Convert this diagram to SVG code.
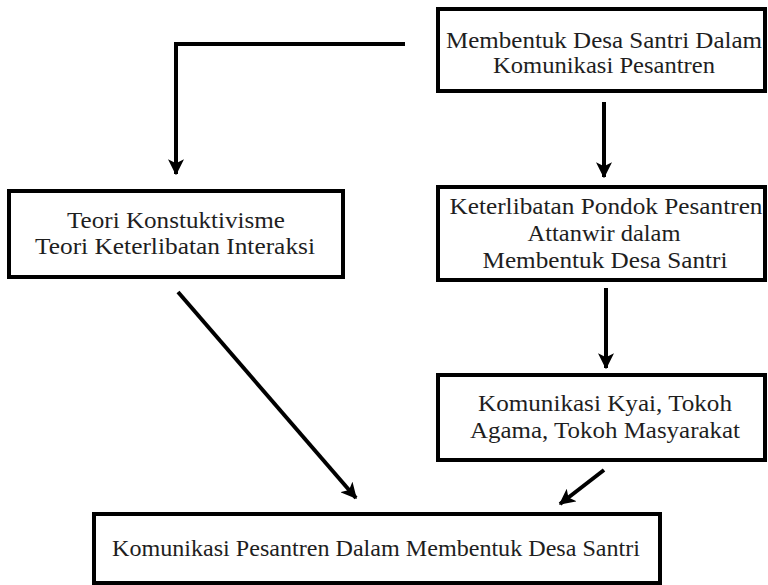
<svg xmlns="http://www.w3.org/2000/svg" width="768" height="585" viewBox="0 0 768 585">
<defs>
<style>
.box{fill:#fff;stroke:#000;stroke-width:4}
.t{font-family:'Liberation Serif','DejaVu Serif','Times New Roman',serif;font-size:22.5px;fill:#1e1e1e;text-anchor:middle}
.c{fill:none;stroke:#000;stroke-width:4}
</style>
<marker id="ah" viewBox="0 0 12 12" refX="11" refY="6" markerWidth="4" markerHeight="4" orient="auto" markerUnits="strokeWidth">
<path d="M0,0 L12,6 L0,12 L3,6 Z" fill="#000"/>
</marker>
</defs>
<rect width="768" height="585" fill="#fff"/>
<g id="n1">
<rect class="box" x="438" y="9" width="327" height="82"/>
<text class="t" x="604" y="48" textLength="316" lengthAdjust="spacingAndGlyphs">Membentuk Desa Santri Dalam</text>
<text class="t" x="604" y="73" textLength="222" lengthAdjust="spacingAndGlyphs">Komunikasi Pesantren</text>
</g>
<g id="n2">
<rect class="box" x="438" y="187" width="327" height="93"/>
<text class="t" x="606" y="214" textLength="313" lengthAdjust="spacingAndGlyphs">Keterlibatan Pondok Pesantren</text>
<text class="t" x="604" y="241" textLength="153" lengthAdjust="spacingAndGlyphs">Attanwir dalam</text>
<text class="t" x="605" y="268" textLength="245" lengthAdjust="spacingAndGlyphs">Membentuk Desa Santri</text>
</g>
<g id="n3">
<rect class="box" x="438" y="375" width="327" height="85"/>
<text class="t" x="605" y="411" textLength="254" lengthAdjust="spacingAndGlyphs">Komunikasi Kyai, Tokoh</text>
<text class="t" x="605" y="438" textLength="270" lengthAdjust="spacingAndGlyphs">Agama, Tokoh Masyarakat</text>
</g>
<g id="n4">
<rect class="box" x="9" y="191" width="334" height="86"/>
<text class="t" x="176" y="228" textLength="218" lengthAdjust="spacingAndGlyphs">Teori Konstuktivisme</text>
<text class="t" x="175" y="254" textLength="280" lengthAdjust="spacingAndGlyphs">Teori Keterlibatan Interaksi</text>
</g>
<g id="n5">
<rect class="box" x="94" y="514" width="566" height="69"/>
<text class="t" x="376" y="556" textLength="528" lengthAdjust="spacingAndGlyphs">Komunikasi Pesantren Dalam Membentuk Desa Santri</text>
</g>
<g id="connectors">
<path class="c" d="M405,44 H176 V174" marker-end="url(#ah)"/>
<path class="c" d="M604,102 V177" marker-end="url(#ah)"/>
<path class="c" d="M606,288 V368" marker-end="url(#ah)"/>
<path class="c" d="M178,292 L356,498" marker-end="url(#ah)"/>
<path class="c" d="M604,470 L560,504" marker-end="url(#ah)"/>
</g>
</svg>
